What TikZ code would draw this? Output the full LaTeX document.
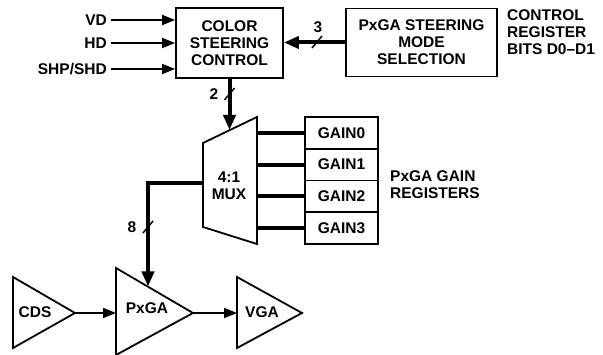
\documentclass[tikz,border=0pt]{standalone}
\usepackage{fontspec}
\setmainfont{Liberation Sans}
\usetikzlibrary{arrows.meta, positioning}
\tikzstyle{block} = [rectangle, draw=black, line width=1.8pt, align=center, inner sep=0pt]
\tikzstyle{txt} = [inner sep=0pt, align=left]
\tikzstyle{arrow} = [-{Triangle[length=13pt,width=10pt]}, line width=1.8pt]
\tikzstyle{busarrow} = [-{Triangle[length=15pt,width=12pt]}, line width=4pt]
\tikzstyle{bus} = [line width=4pt]
\tikzstyle{amp} = [draw=black, line width=1.8pt, line join=miter]
\newcommand{\busslash}[1]{\draw[line width=1.5pt] (#1) ++(-5,6) -- ++(10,-12);}

\begin{document}
\begin{tikzpicture}[x=1pt, y=-1pt, font=\bfseries\fontsize{15.5}{17}\selectfont]
    \useasboundingbox (0,0) rectangle (603,355);

    % control blocks
    \node (color) [block, minimum width=107pt, minimum height=70pt] at (229.5,43) {COLOR\\STEERING\\CONTROL};
    \node (mode) [block, minimum width=151pt, minimum height=68pt] at (421.5,42.5) {PxGA STEERING\\MODE\\SELECTION};
    \node (creg) [txt, anchor=west] at (507,32) {CONTROL\\REGISTER\\BITS D0--D1};

    \node (vd) [txt, anchor=east, text height=11pt, text depth=0pt] at (107,20) {VD};
    \node (hd) [txt, anchor=east, text height=11pt, text depth=0pt] at (107,43) {HD};
    \node (shp) [txt, anchor=east, text height=11pt, text depth=0pt] at (107,69) {SHP/SHD};

    \draw [arrow] ([xshift=4pt]vd.east) -- (color.west |- vd);
    \draw [arrow] ([xshift=4pt]hd.east) -- (color.west |- hd);
    \draw [arrow] ([xshift=4pt]shp.east) -- (color.west |- shp);

    \draw [busarrow] (mode.west) -- (mode.west -| color.east);
    \busslash{317,42}
    \node (n3) [txt] at (318,27) {3};

    % mux
    \coordinate (mux tl) at (203,143);
    \coordinate (mux tr) at (257,117);
    \coordinate (mux br) at (257,244);
    \coordinate (mux bl) at (203,227);
    \draw [amp] (mux tl) -- (mux tr) -- (mux br) -- (mux bl) -- cycle;
    \node (mux) [txt, align=center] at (229,185.5) {4:1\\MUX};
    \coordinate (mux in) at (229.5,130);
    \coordinate (mux out) at (203,183);

    \draw [busarrow] (color.south) -- (mux in);
    \busslash{229.5,94}
    \node (n2) [txt] at (214,94) {2};

    % gain registers
    \foreach \i in {0,...,3} {
        \node (gain\i) [block, minimum width=73pt, minimum height=31.75pt] at (341.5,{132.9+31.75*\i}) {GAIN\i};
        \draw [bus] (mux tr |- gain\i.west) -- (gain\i.west);
    }
    \node (greg) [txt, anchor=west] at (390,184.5) {PxGA GAIN\\REGISTERS};

    % signal chain
    \draw [amp] (13,277) -- (75,313) -- (13,348) -- cycle;
    \draw [amp] (116,268) -- (193,313) -- (116,355) -- cycle;
    \draw [amp] (237,277) -- (302,313) -- (237,348) -- cycle;
    \node (cds) [txt] at (35,312.5) {CDS};
    \node (pxga) [txt] at (147,308) {PxGA};
    \node (vga) [txt] at (262,312) {VGA};
    \coordinate (cds out) at (75,313);
    \coordinate (pxga in) at (116,313);
    \coordinate (pxga top) at (148,286.5);
    \coordinate (pxga out) at (193,313);
    \coordinate (vga in) at (237,313);

    \draw [arrow] (cds out) -- (pxga in);
    \draw [arrow] (pxga out) -- (vga in);
    \draw [busarrow] (mux out) -| (pxga top);
    \busslash{148,227}
    \node (n8) [txt] at (132,227) {8};

\end{tikzpicture}
\end{document}
